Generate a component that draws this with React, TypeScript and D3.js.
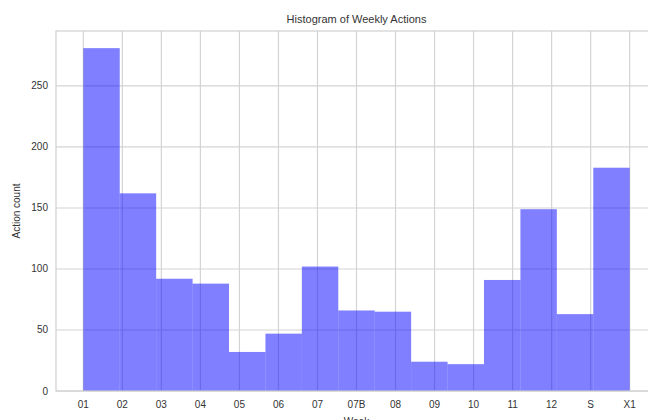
import React from "react";
import * as d3 from "d3";

const weeks = ["01", "02", "03", "04", "05", "06", "07", "07B", "08", "09", "10", "11", "12", "S", "X1"];
const counts = [281, 162, 92, 88, 32, 47, 102, 66, 65, 24, 22, 91, 149, 63, 183];
const yTicks = [0, 50, 100, 150, 200, 250];

const W = 648;
const H = 420;
const margin = { left: 56, right: -9, top: 31, bottom: 29 };

export default function App() {
  const n = weeks.length;
  const xMax = n - 1;
  const pad = xMax * 0.05;
  const x = d3
    .scaleLinear()
    .domain([-pad, xMax + pad])
    .range([margin.left, W - margin.right]);
  const yMax = (d3.max(counts) as number) * 1.05;
  const y = d3
    .scaleLinear()
    .domain([0, yMax])
    .range([H - margin.bottom, margin.top]);
  const binW = xMax / n;
  const font = "'Liberation Sans', Arial, sans-serif";
  const x0 = x.range()[0];
  const x1 = x.range()[1];
  const y0 = y.range()[0];
  const y1 = y.range()[1];

  return (
    <svg
      width={W}
      height={H}
      style={{ position: "absolute", left: 0, top: 0, background: "#fff" }}
      fontFamily={font}
    >
      <rect x={0} y={0} width={W} height={H} fill="#fff" />
      {/* grid */}
      {yTicks.map((t) => (
        <line key={"gy" + t} x1={x0} x2={x1} y1={y(t)} y2={y(t)} stroke="#d4d4d4" strokeWidth={1.2} />
      ))}
      {weeks.map((w, i) => (
        <line key={"gx" + w} x1={x(i)} x2={x(i)} y1={y0} y2={y1} stroke="#d4d4d4" strokeWidth={1.2} />
      ))}
      {/* bars */}
      {counts.map((c, i) => (
        <rect
          key={"b" + i}
          x={x(i * binW)}
          y={y(c)}
          width={x((i + 1) * binW) - x(i * binW)}
          height={y0 - y(c)}
          fill="rgba(0,0,255,0.5)"
        />
      ))}
      {/* spines */}
      <rect x={x0} y={y1} width={x1 - x0} height={y0 - y1} fill="none" stroke="#d0d0d0" strokeWidth={1.2} />
      {/* y tick labels */}
      {yTicks.map((t) => (
        <text key={"ty" + t} x={x0 - 8} y={y(t)} dy="0.35em" textAnchor="end" fontSize={10} fill="#333">
          {t}
        </text>
      ))}
      {/* x tick labels */}
      {weeks.map((w, i) => (
        <text key={"tx" + w} x={x(i)} y={y0 + 13} dy="0.35em" textAnchor="middle" fontSize={10} fill="#333">
          {w}
        </text>
      ))}
      <text x={(x0 + x1) / 2} y={y1 - 8} textAnchor="middle" fontSize={11} fill="#333">
        Histogram of Weekly Actions
      </text>
      <text
        transform={`translate(${20},${(y0 + y1) / 2}) rotate(-90)`}
        textAnchor="middle"
        fontSize={10}
        fill="#333"
      >
        Action count
      </text>
      <text x={(x0 + x1) / 2} y={y0 + 34} textAnchor="middle" fontSize={10} fill="#333">
        Week
      </text>
    </svg>
  );
}
